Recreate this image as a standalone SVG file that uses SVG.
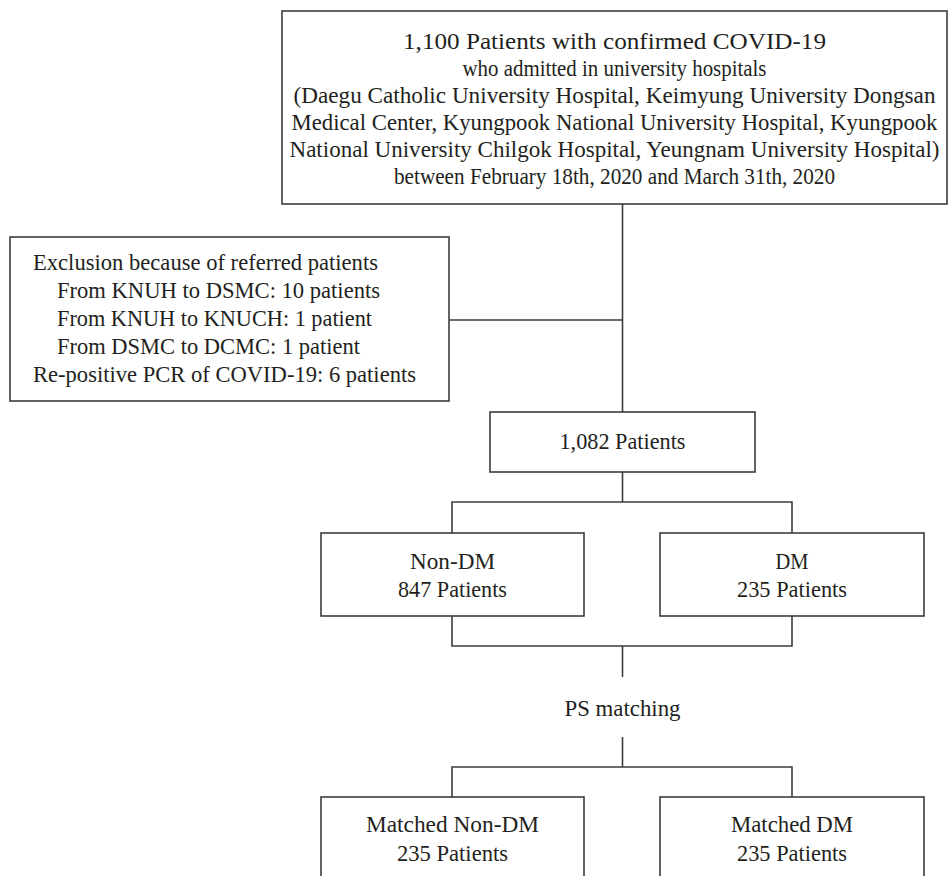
<svg xmlns="http://www.w3.org/2000/svg" width="949" height="876" viewBox="0 0 949 876">
<style>
  .box { fill: #ffffff; stroke: #3c3c3c; stroke-width: 1.6; }
  .t { font-family: "Liberation Serif", "Times New Roman", serif; font-size: 22.5px; fill: #231f20; }
  .c { text-anchor: middle; }
  .ln { fill: none; stroke: #3c3c3c; stroke-width: 1.6; }
</style>
<rect width="949" height="876" fill="#ffffff"/>
<g id="connectors">
  <line class="ln" x1="622.5" y1="204" x2="622.5" y2="412"/>
  <line class="ln" x1="449" y1="320" x2="622.5" y2="320"/>
  <line class="ln" x1="622.5" y1="472" x2="622.5" y2="502"/>
  <polyline class="ln" points="452,533 452,502 792,502 792,533"/>
  <polyline class="ln" points="452,616 452,646 792,646 792,616"/>
  <line class="ln" x1="622.5" y1="646" x2="622.5" y2="677"/>
  <line class="ln" x1="622.5" y1="737" x2="622.5" y2="767"/>
  <polyline class="ln" points="452,797 452,767 792,767 792,797"/>
</g>
<g id="node-total">
  <rect class="box" x="282" y="11" width="665" height="193"/>
  <text class="t c" x="614.5" y="49" textLength="423" lengthAdjust="spacingAndGlyphs">1,100 Patients with confirmed COVID-19</text>
  <text class="t c" x="614.5" y="76" textLength="304" lengthAdjust="spacingAndGlyphs">who admitted in university hospitals</text>
  <text class="t c" x="614.5" y="103" textLength="642" lengthAdjust="spacingAndGlyphs">(Daegu Catholic University Hospital, Keimyung University Dongsan</text>
  <text class="t c" x="614.5" y="130" textLength="646" lengthAdjust="spacingAndGlyphs">Medical Center, Kyungpook National University Hospital, Kyungpook</text>
  <text class="t c" x="614.5" y="157" textLength="650" lengthAdjust="spacingAndGlyphs">National University Chilgok Hospital, Yeungnam University Hospital)</text>
  <text class="t c" x="614.5" y="184" textLength="441" lengthAdjust="spacingAndGlyphs">between February 18th, 2020 and March 31th, 2020</text>
</g>
<g id="node-exclusion">
  <rect class="box" x="10" y="237" width="439" height="164"/>
  <text class="t" x="33" y="270" textLength="345" lengthAdjust="spacingAndGlyphs">Exclusion because of referred patients</text>
  <text class="t" x="57" y="298" textLength="323" lengthAdjust="spacingAndGlyphs">From KNUH to DSMC: 10 patients</text>
  <text class="t" x="57" y="326" textLength="315" lengthAdjust="spacingAndGlyphs">From KNUH to KNUCH: 1 patient</text>
  <text class="t" x="57" y="354" textLength="303" lengthAdjust="spacingAndGlyphs">From DSMC to DCMC: 1 patient</text>
  <text class="t" x="33" y="382" textLength="383" lengthAdjust="spacingAndGlyphs">Re-positive PCR of COVID-19: 6 patients</text>
</g>
<g id="node-1082">
  <rect class="box" x="490" y="412" width="265" height="60"/>
  <text class="t c" x="622.5" y="449" textLength="126" lengthAdjust="spacingAndGlyphs">1,082 Patients</text>
</g>
<g id="node-nondm">
  <rect class="box" x="321" y="533" width="263" height="83"/>
  <text class="t c" x="452.5" y="569" textLength="85" lengthAdjust="spacingAndGlyphs">Non-DM</text>
  <text class="t c" x="452.5" y="597" textLength="109" lengthAdjust="spacingAndGlyphs">847 Patients</text>
</g>
<g id="node-dm">
  <rect class="box" x="660" y="533" width="264" height="83"/>
  <text class="t c" x="792" y="569" textLength="33" lengthAdjust="spacingAndGlyphs">DM</text>
  <text class="t c" x="792" y="597" textLength="110" lengthAdjust="spacingAndGlyphs">235 Patients</text>
</g>
<g id="node-ps">
  <text class="t c" x="622.5" y="716" textLength="116" lengthAdjust="spacingAndGlyphs">PS matching</text>
</g>
<g id="node-matched-nondm">
  <rect class="box" x="321" y="797" width="263" height="90"/>
  <text class="t c" x="452.5" y="832" textLength="173" lengthAdjust="spacingAndGlyphs">Matched Non-DM</text>
  <text class="t c" x="452.5" y="861" textLength="111" lengthAdjust="spacingAndGlyphs">235 Patients</text>
</g>
<g id="node-matched-dm">
  <rect class="box" x="660" y="797" width="264" height="90"/>
  <text class="t c" x="792" y="832" textLength="122" lengthAdjust="spacingAndGlyphs">Matched DM</text>
  <text class="t c" x="792" y="861" textLength="110" lengthAdjust="spacingAndGlyphs">235 Patients</text>
</g>
</svg>
